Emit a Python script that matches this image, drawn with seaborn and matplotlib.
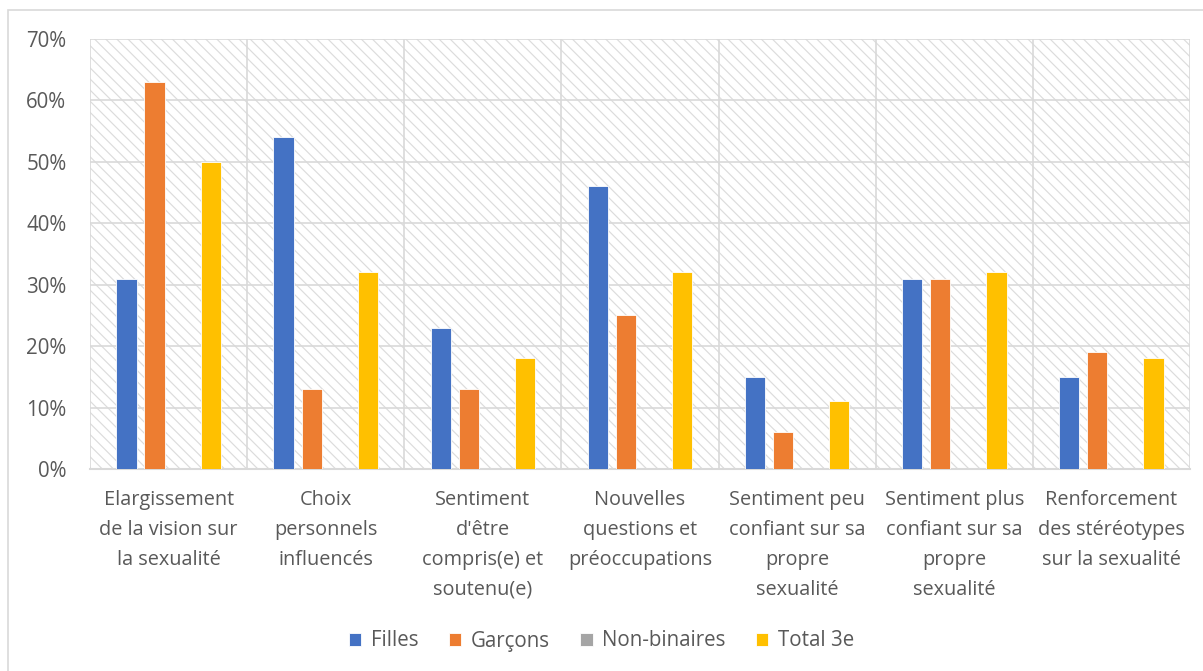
import numpy as np
import pandas as pd
import seaborn as sns
import matplotlib.pyplot as plt
from matplotlib.patches import Rectangle
from matplotlib.ticker import PercentFormatter

# ==================== données ====================
categories = [
    "Elargissement\nde la vision sur\nla sexualité",
    "Choix\npersonnels\ninfluencés",
    "Sentiment\nd'être\ncompris(e) et\nsoutenu(e)",
    "Nouvelles\nquestions et\npréoccupations",
    "Sentiment peu\nconfiant sur sa\npropre\nsexualité",
    "Sentiment plus\nconfiant sur sa\npropre\nsexualité",
    "Renforcement\ndes stéréotypes\nsur la sexualité",
]
groups = ["Filles", "Garçons", "Non-binaires", "Total 3e"]
filles = [31, 54, 23, 46, 15, 31, 15]
garcons = [63, 13, 13, 25, 6, 31, 19]
non_binaires = [0, 0, 0, 0, 0, 0, 0]
total_3e = [50, 32, 18, 32, 11, 32, 18]
colors = ["#4472C4", "#ED7D31", "#A5A5A5", "#FFC000"]

df = pd.DataFrame({
    "cat": categories * 4,
    "groupe": np.repeat(groups, len(categories)),
    "val": filles + garcons + non_binaires + total_3e,
})

# ==================== figure ====================
sns.set_style("white")
plt.rcParams["font.family"] = ["Open Sans", "DejaVu Sans"]
plt.rcParams["hatch.color"] = "#dcdcdc"
plt.rcParams["hatch.linewidth"] = 0.85

fig = plt.figure(figsize=(12.03, 6.71), dpi=100)
ax = fig.add_axes([90 / 1203, 1 - 469 / 671, 1100 / 1203, 430 / 671])

# fond hachuré
ax.add_patch(Rectangle((0, 0), 1, 1, transform=ax.transAxes, facecolor="white",
                       edgecolor="#dcdcdc", hatch="\\\\\\", linewidth=0, zorder=0))

sns.barplot(data=df, x="cat", y="val", hue="groupe", palette=colors, saturation=1,
            width=0.715, gap=0.28, edgecolor="white", linewidth=0.6,
            ax=ax, zorder=3, legend=True)

ax.set_ylim(0, 70)
ax.set_xlim(-0.5, len(categories) - 0.5)
ax.set_yticks(range(0, 71, 10))
ax.yaxis.set_major_formatter(PercentFormatter(decimals=0))
ax.set_xticks(np.arange(-0.5, len(categories), 1), minor=True)
ax.grid(axis="y", color="#d9d9d9", linewidth=1.2, zorder=1)
ax.grid(axis="x", which="minor", color="#d9d9d9", linewidth=1.2, zorder=1)
ax.grid(axis="x", which="major", visible=False)
ax.set_axisbelow(True)
for s in ["top", "right", "left"]:
    ax.spines[s].set_visible(False)
ax.spines["bottom"].set_color("#d9d9d9")
ax.spines["bottom"].set_linewidth(1.5)
ax.tick_params(axis="both", which="both", length=0, colors="#595959")
ax.tick_params(axis="x", pad=15, labelsize=14.3)
ax.tick_params(axis="y", pad=17, labelsize=14.8)
for lbl in ax.get_xticklabels():
    lbl.set_linespacing(1.66)
ax.set_xlabel("")
ax.set_ylabel("")

ax.legend(loc="center", bbox_to_anchor=(0.5, (671 - 641) / 671), bbox_transform=fig.transFigure,
          ncol=4, frameon=False, fontsize=14.8, handlelength=0.6, handleheight=0.6,
          handletextpad=0.45, columnspacing=1.5, labelcolor="#595959")

# cadre du graphique
fig.add_artist(Rectangle((8 / 1203, -0.01), 1.02, 1 - 10 / 671 + 0.01, transform=fig.transFigure,
                         fill=False, edgecolor="#d9d9d9", linewidth=1.2))

plt.savefig("out.png", dpi=100)
